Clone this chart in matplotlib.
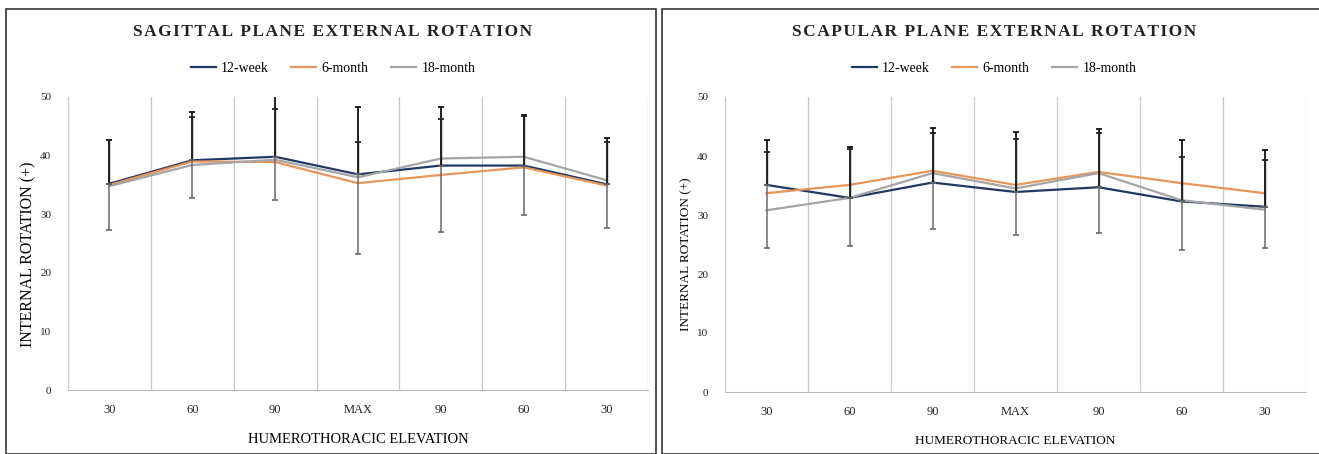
import numpy as np
import matplotlib
matplotlib.use("Agg")
from matplotlib import pyplot as plt
from matplotlib.patches import Rectangle

plt.rcParams['font.family'] = ['Liberation Serif', 'DejaVu Serif']

categories = ["30", "60", "90", "MAX", "90", "60", "30"]
series_names = ["12-week", "6-month", "18-month"]
series_colors = ["#1F3864", "#E8955A", "#A5A5A5"]

# sagittal plane (left)
sag_12wk = [35.2, 39.2, 39.8, 36.8, 38.3, 38.3, 35.1]
sag_6mo = [35.0, 39.0, 38.9, 35.3, 36.7, 38.0, 34.9]
sag_18mo = [34.8, 38.4, 39.3, 36.3, 39.5, 39.8, 35.8]
sag_upper_a = [42.7, 47.5, 51.0, 48.3, 48.3, 46.9, 43.0]
sag_upper_b = [42.7, 46.6, 48.0, 42.3, 46.2, 46.7, 42.3]
sag_lower = [27.3, 32.8, 32.4, 23.2, 27.0, 29.9, 27.6]

# scapular plane (right)
scap_12wk = [35.1, 32.9, 35.5, 33.9, 34.7, 32.3, 31.4]
scap_6mo = [33.7, 35.1, 37.5, 35.1, 37.3, 35.4, 33.7]
scap_18mo = [30.8, 32.9, 37.1, 34.5, 37.1, 32.5, 30.9]
scap_upper_a = [42.7, 41.5, 44.7, 44.1, 44.5, 42.7, 41.1]
scap_upper_b = [40.7, 41.2, 43.9, 42.9, 43.9, 39.8, 39.3]
scap_lower = [24.4, 24.7, 27.6, 26.6, 27.0, 24.0, 24.4]


def spaced(s):
    # crude letter spacing for the bold titles
    return "\u200a".join(s)


def draw_panel(ax, title, values, upper_a, upper_b, lower, tx, ty_title, ty_leg, xl_size):
    x = np.arange(len(categories))
    base = np.array(values[0])
    # error bars: black above, grey below
    ax.errorbar(x, base, yerr=[np.zeros(len(x)), np.array(upper_a) - base],
                fmt='none', ecolor='#111111', elinewidth=1.3, capsize=2.5, capthick=1.3, zorder=4)
    ax.errorbar(x, base, yerr=[np.zeros(len(x)), np.array(upper_b) - base],
                fmt='none', ecolor='#222222', elinewidth=1.0, capsize=2.5, capthick=1.3, zorder=4)
    ax.errorbar(x, base, yerr=[base - np.array(lower), np.zeros(len(x))],
                fmt='none', ecolor='#6a6a6a', elinewidth=1.1, capsize=2.5, capthick=1.2, zorder=4)
    handles = []
    for vals, name, col in zip(values, series_names, series_colors):
        ln, = ax.plot(x, vals, color=col, lw=1.6, label=name, zorder=3)
        handles.append(ln)
    ax.set_xlim(-0.5, len(categories) - 0.5)
    ax.set_ylim(0, 50)
    ax.set_yticks([0, 10, 20, 30, 40, 50])
    ax.set_xticks(x)
    ax.set_xticklabels(categories, fontsize=9)
    ax.tick_params(axis='both', length=0, labelsize=9, colors='#222222')
    ax.tick_params(axis='x', pad=10)
    ax.tick_params(axis='y', pad=12, labelsize=8)
    for b in np.arange(-0.5, len(categories), 1.0):
        ax.axvline(b, color='#C8C8C8', lw=0.9, zorder=1)
    for s in ['top', 'right']:
        ax.spines[s].set_visible(False)
    ax.spines['left'].set_color('#C8C8C8')
    ax.spines['bottom'].set_color('#BBBBBB')
    fig.text(tx, ty_title, spaced(title), ha='center', va='center', fontsize=12.5,
             fontweight='bold', color='#222222')
    fig.legend(handles=handles, loc='center', bbox_to_anchor=(tx, ty_leg), ncol=3, frameon=False,
               fontsize=10, handlelength=1.8, columnspacing=1.6, handletextpad=0.4)
    ax.set_xlabel("HUMEROTHORACIC ELEVATION", fontsize=xl_size, labelpad=12)


fig = plt.figure(figsize=(13.19, 4.54), dpi=100)
ax1 = fig.add_axes([68 / 1319, 1 - 390 / 454, 580 / 1319, 293 / 454])
ax2 = fig.add_axes([725 / 1319, 1 - 392 / 454, 581 / 1319, 295 / 454])

draw_panel(ax1, "SAGITTAL PLANE EXTERNAL ROTATION", [sag_12wk, sag_6mo, sag_18mo],
           sag_upper_a, sag_upper_b, sag_lower, 333 / 1319, 1 - 32 / 454, 1 - 68 / 454, 10.5)
draw_panel(ax2, "SCAPULAR PLANE EXTERNAL ROTATION", [scap_12wk, scap_6mo, scap_18mo],
           scap_upper_a, scap_upper_b, scap_lower, 994 / 1319, 1 - 32 / 454, 1 - 68 / 454, 9.5)

fig.text(28 / 1319, 1 - 254 / 454, "INTERNAL ROTATION (+)", rotation=90, ha='center', va='center', fontsize=11.5)
fig.text(686 / 1319, 1 - 254 / 454, "INTERNAL ROTATION (+)", rotation=90, ha='center', va='center', fontsize=9.5)

# panel frames
fig.patches.append(Rectangle((6 / 1319, 0), 650 / 1319, 1 - 9 / 454, transform=fig.transFigure,
                             fill=False, edgecolor='#333333', lw=1.2))
fig.patches.append(Rectangle((662 / 1319, 0), 660 / 1319, 1 - 9 / 454, transform=fig.transFigure,
                             fill=False, edgecolor='#333333', lw=1.2))

fig.savefig("out.png", dpi=100)
